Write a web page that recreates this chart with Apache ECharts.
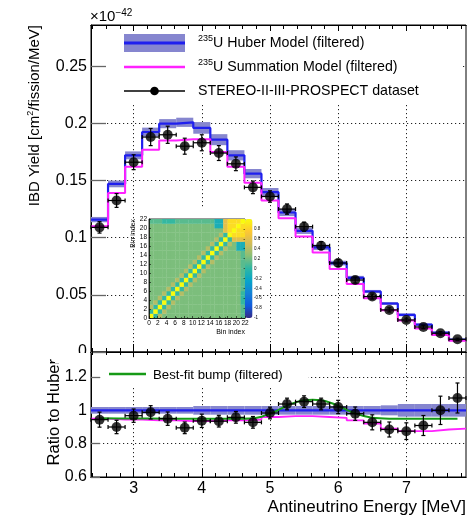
<!DOCTYPE html>
<html>
<head>
<meta charset="utf-8">
<script src="https://cdn.jsdelivr.net/npm/echarts@6/dist/echarts.min.js"></script>
<style>
html, body { margin: 0; padding: 0; background: #fff; }
#chart { width: 474px; height: 516px; }
</style>
</head>
<body>
<div id="chart"></div>
<script>
// bins: 0.25 MeV wide, centres below
const binCenters = [2.5, 2.75, 3.0, 3.25, 3.5, 3.75, 4.0, 4.25, 4.5, 4.75, 5.0,
                    5.25, 5.5, 5.75, 6.0, 6.25, 6.5, 6.75, 7.0, 7.25, 7.5, 7.75];
const binHalf = 0.125;

// top panel, units of 1e-42 cm2/fission/MeV
const huberYield = [0.1158, 0.147, 0.172, 0.1924, 0.1997, 0.2009, 0.196, 0.1857, 0.172, 0.156, 0.1398,
                    0.122, 0.106, 0.0915, 0.0778, 0.0649, 0.0529, 0.0424, 0.0325, 0.024, 0.017, 0.0108];
const huberRelErr = [0.02, 0.02, 0.02, 0.02, 0.02, 0.02, 0.026, 0.026, 0.026, 0.026, 0.026,
                     0.026, 0.026, 0.026, 0.026, 0.026, 0.026, 0.03, 0.038, 0.038, 0.038, 0.038];
const summationYield = [0.110, 0.139, 0.162, 0.177, 0.185, 0.186, 0.186, 0.175, 0.162, 0.148, 0.1325,
                        0.117, 0.101, 0.087, 0.0725, 0.0594, 0.047, 0.0366, 0.0275, 0.0205, 0.0148, 0.0098];
const dataYield = [0.109, 0.1325, 0.166, 0.188, 0.190, 0.180, 0.183, 0.174, 0.1646, 0.144, 0.136,
                   0.125, 0.1096, 0.093, 0.0778, 0.0629, 0.0485, 0.0368, 0.028, 0.0219, 0.0164, 0.0111];
const dataYieldErr = [0.005, 0.006, 0.0065, 0.0075, 0.0075, 0.007, 0.007, 0.0065, 0.006, 0.0055, 0.005,
                      0.0045, 0.004, 0.0035, 0.003, 0.0026, 0.0022, 0.0018, 0.0016, 0.0015, 0.0014, 0.001];

// bottom panel, ratio to Huber
const summationRatio = [0.950, 0.945, 0.945, 0.94, 0.94, 0.935, 0.935, 0.94, 0.94, 0.945, 0.96,
                        0.965, 0.965, 0.96, 0.955, 0.94, 0.92, 0.89, 0.875, 0.875, 0.885, 0.89];
const dataRatio = [0.944, 0.90, 0.968, 0.988, 0.95, 0.895, 0.937, 0.935, 0.958, 0.928, 0.984,
                   1.038, 1.052, 1.038, 1.020, 0.98, 0.928, 0.885, 0.875, 0.909, 1.0, 1.074];
const dataRatioErr = [0.045, 0.04, 0.04, 0.04, 0.04, 0.035, 0.04, 0.035, 0.035, 0.035, 0.035,
                      0.035, 0.035, 0.035, 0.04, 0.04, 0.045, 0.045, 0.05, 0.06, 0.085, 0.09];
const bumpEnergy = [2.5, 3.0, 3.5, 4.0, 4.5, 4.75, 4.875, 5.0, 5.125, 5.25, 5.375, 5.5, 5.625,
                    5.75, 5.875, 6.0, 6.125, 6.25, 6.375, 6.5, 6.75, 7.0, 7.5, 7.75];
const bumpRatio = [0.952, 0.951, 0.950, 0.949, 0.949, 0.952, 0.962, 0.980, 1.003, 1.028, 1.048, 1.060, 1.064,
                   1.060, 1.047, 1.027, 1.003, 0.982, 0.966, 0.956, 0.950, 0.949, 0.949, 0.949];

// ticks
const majorTicks = [3, 4, 5, 6, 7];
const minorTicks = [2.4, 2.6, 2.8, 3.2, 3.4, 3.6, 3.8, 4.2, 4.4, 4.6, 4.8, 5.2, 5.4, 5.6, 5.8,
                    6.2, 6.4, 6.6, 6.8, 7.2, 7.4, 7.6, 7.8];
const yieldTicks = [0, 0.05, 0.1, 0.15, 0.2, 0.25];
const ratioTicks = [0.6, 0.8, 1, 1.2];

// inset correlation matrix, row 0 = bin 0 (bottom), one char per column
const corrLevels = { Y: 1.0, y: 0.85, O: 0.6, k: 0.4, b: 0.22, g: 0.12, t: 0.02, T: -0.12 };
const corrRows = [
    'Ytkbbbbbbbbbbbbbbbbbbg',
    'tYtkbbbbbbbbbbbbbbbbbg',
    'ktYtkbbbbbbbbbbbbbbbbg',
    'bktYtkbbbbbbbbbbbbbbbt',
    'bbktYtkbbbbbbbbbbbbbbt',
    'bbbktYtkbbbbbbbbbbbbbt',
    'bbbbktYtkbbbbbbbbbbbbg',
    'bbbbbktYtkbbbbbbbbbbbg',
    'bbbbbbktYtkbbbbbbbbbbg',
    'bbbbbbbktYtkbbbbbbbbbg',
    'bbbbbbbbktYtkbbbbbbbbg',
    'bbbbbbbbbktYtkbbbbbbbg',
    'bbbbbbbbbbktYtkbbbbbbg',
    'bbbbbbbbbbbktYtkbbbbbg',
    'bbbbbbbbbbbbktYtkbbbbg',
    'bbbbbbbbbbbbbktYtkbbTT',
    'bbbbbbbbbbbbbbktYtkbTT',
    'bbbbbbbbbbbbbbbktYtOOO',
    'bbbbbbbbbbbbbbbbktYyyy',
    'bbbbbbbbbbbbbbbbbOyYyy',
    'bbbbbbbbbbbbbbbTTOyyYy',
    'gggtttgggggggggTTOyyyY'
];
const birdPalette = ['#352a87', '#0f5cdd', '#1481d6', '#06a4ca', '#2eb7a4',
                     '#87bf77', '#d1bb59', '#fec832', '#f9fb0e'];
const colorbarTicks = [-1, -0.8, -0.6, -0.4, -0.2, 0, 0.2, 0.4, 0.6, 0.8];
const binIndexTicks = [0, 2, 4, 6, 8, 10, 12, 14, 16, 18, 20, 22];

const FONT = '"Liberation Sans", Arial, Helvetica, sans-serif';
const huberColor = '#1f1fee';
const bandColor = '#8686cf';
const sumColor = '#ff22ff';
const bumpColor = '#169a16';
const gridLine = { show: true, lineStyle: { color: '#222', width: 1, type: [1.2, 2.8] } };

// histogram outline as step points on bin edges
function stepData(values) {
    const pts = binCenters.map((c, i) => [c - binHalf, values[i]]);
    pts.push([binCenters[binCenters.length - 1] + binHalf, values[values.length - 1]]);
    return pts;
}

function bandItem(params, api) {
    const x = api.value(0);
    const p1 = api.coord([x - binHalf, api.value(2)]);
    const p2 = api.coord([x + binHalf, api.value(1)]);
    return {
        type: 'rect',
        shape: { x: p1[0], y: p1[1], width: p2[0] - p1[0], height: p2[1] - p1[1] },
        style: { fill: bandColor }
    };
}

function errorItem(params, api) {
    const x = api.value(0), y = api.value(1), e = api.value(2);
    const top = api.coord([x, y + e]);
    const bot = api.coord([x, y - e]);
    const lft = api.coord([x - binHalf, y]);
    const rgt = api.coord([x + binHalf, y]);
    const st = { stroke: '#000', lineWidth: 1.2 };
    const cap = 2;
    const seg = (x1, y1, x2, y2) => ({ type: 'line', shape: { x1, y1, x2, y2 }, style: st });
    return {
        type: 'group',
        children: [
            seg(top[0], top[1], bot[0], bot[1]),
            seg(top[0] - cap, top[1], top[0] + cap, top[1]),
            seg(bot[0] - cap, bot[1], bot[0] + cap, bot[1]),
            seg(lft[0], lft[1], rgt[0], rgt[1]),
            seg(lft[0], lft[1] - cap, lft[0], lft[1] + cap),
            seg(rgt[0], rgt[1] - cap, rgt[0], rgt[1] + cap)
        ]
    };
}

function cellItem(params, api) {
    const c = api.value(0), r = api.value(1);
    const p1 = api.coord([c, r + 1]);
    const p2 = api.coord([c + 1, r]);
    return {
        type: 'rect',
        shape: { x: p1[0], y: p1[1], width: p2[0] - p1[0] + 0.3, height: p2[1] - p1[1] + 0.3 },
        style: { fill: api.visual('color') }
    };
}

const corrData = [];
corrRows.forEach((row, r) => {
    row.split('').forEach((ch, c) => corrData.push([c, r, corrLevels[ch]]));
});

function energyAxis(gridIndex, position, ticks, len, extra) {
    return Object.assign({
        type: 'value', gridIndex, position, min: 2.375, max: 7.875,
        axisLine: { show: true, lineStyle: { color: '#000', width: 1 } },
        axisTick: { show: true, inside: true, length: len, customValues: ticks, lineStyle: { color: '#000', width: 1 } },
        axisLabel: { show: false },
        splitLine: { show: false }
    }, extra || {});
}

const chart = echarts.init(document.getElementById('chart'));

const supRich = {
    sup: { fontSize: 9, fontFamily: FONT, verticalAlign: 'top', lineHeight: 18, fill: '#000' }
};

chart.setOption({
    animation: false,
    backgroundColor: '#fff',
    textStyle: { fontFamily: FONT },
    grid: [
        { left: 91, top: 25, width: 375, height: 327, show: true, borderColor: '#000', borderWidth: 1 },
        { left: 91, top: 352, width: 375, height: 125, show: true, borderColor: '#000', borderWidth: 1 },
        { left: 149, top: 219, width: 96, height: 99, show: true, borderColor: '#000', borderWidth: 0.8, z: 3 },
        { left: 245, top: 219, width: 7.5, height: 99 }
    ],
    xAxis: [
        energyAxis(0, 'bottom', majorTicks, 8, { splitLine: gridLine }),
        energyAxis(0, 'bottom', minorTicks, 4),
        energyAxis(0, 'top', majorTicks, 6),
        energyAxis(0, 'top', minorTicks, 4),
        energyAxis(1, 'bottom', majorTicks, 8, {
            splitLine: gridLine,
            axisLabel: { show: true, customValues: majorTicks, fontSize: 16, color: '#000', margin: 4, fontFamily: FONT }
        }),
        energyAxis(1, 'bottom', minorTicks, 4),
        energyAxis(1, 'top', majorTicks, 5),
        energyAxis(1, 'top', minorTicks, 3),
        {
            type: 'value', gridIndex: 2, min: 0, max: 22, z: 5,
            axisLine: { show: true, lineStyle: { color: '#000', width: 0.8 } },
            axisTick: { show: true, inside: true, length: 2, customValues: binIndexTicks, lineStyle: { color: '#000', width: 0.6 } },
            minorTick: { show: true, splitNumber: 4, length: 1, lineStyle: { color: '#000', width: 0.5 } },
            axisLabel: { show: true, customValues: binIndexTicks, fontSize: 6.5, margin: 2, color: '#000' },
            splitLine: { show: false }
        },
        { type: 'value', gridIndex: 3, min: 0, max: 1, show: false }
    ],
    yAxis: [
        {
            type: 'value', gridIndex: 0, min: 0, max: 0.286,
            axisLine: { show: true, lineStyle: { color: '#000' } },
            axisTick: { show: true, inside: true, length: 15, customValues: yieldTicks, lineStyle: { color: '#666', width: 1.3 } },
            axisLabel: { show: true, customValues: yieldTicks, fontSize: 16, color: '#000', margin: 4, fontFamily: FONT },
            splitLine: gridLine
        },
        {
            type: 'value', gridIndex: 1, min: 0.6, max: 1.35,
            axisLine: { show: true, lineStyle: { color: '#000' } },
            axisTick: { show: true, inside: true, length: 9, customValues: ratioTicks, lineStyle: { color: '#666', width: 1.3 } },
            axisLabel: { show: true, customValues: ratioTicks, fontSize: 16, color: '#000', margin: 4, fontFamily: FONT },
            splitLine: gridLine
        },
        {
            type: 'value', gridIndex: 2, min: 0, max: 22, z: 5,
            axisLine: { show: true, lineStyle: { color: '#000', width: 0.8 } },
            axisTick: { show: true, inside: true, length: 2, customValues: binIndexTicks, lineStyle: { color: '#000', width: 0.6 } },
            axisLabel: { show: true, customValues: binIndexTicks, fontSize: 6.5, margin: 2, color: '#000' },
            splitLine: { show: false }
        },
        {
            type: 'value', gridIndex: 3, min: -1, max: 1, position: 'right', z: 5,
            axisLine: { show: false },
            axisTick: { show: true, inside: true, length: 1.5, customValues: colorbarTicks, lineStyle: { color: '#000', width: 0.5 } },
            axisLabel: { show: true, customValues: colorbarTicks, fontSize: 4.5, margin: 1.5, color: '#000' },
            splitLine: { show: false }
        }
    ],
    visualMap: [{
        type: 'continuous', min: -1, max: 1, seriesIndex: 11, dimension: 2,
        inRange: { color: birdPalette },
        left: 245, top: 219, itemWidth: 7.5, itemHeight: 99, padding: 0,
        calculable: false, hoverLink: false, z: 5
    }],
    series: [
        // --- top panel ---
        {
            type: 'custom', xAxisIndex: 0, yAxisIndex: 0, z: 2,
            data: binCenters.map((c, i) => [c, huberYield[i] * (1 - huberRelErr[i]), huberYield[i] * (1 + huberRelErr[i])]),
            encode: { x: 0, y: [1, 2] },
            renderItem: bandItem
        },
        {
            type: 'line', xAxisIndex: 0, yAxisIndex: 0, step: 'end', symbol: 'none', z: 3,
            data: stepData(huberYield), lineStyle: { color: huberColor, width: 2.2 }
        },
        {
            type: 'line', xAxisIndex: 0, yAxisIndex: 0, step: 'end', symbol: 'none', z: 3,
            data: stepData(summationYield), lineStyle: { color: sumColor, width: 2 }
        },
        {
            type: 'custom', xAxisIndex: 0, yAxisIndex: 0, z: 4,
            data: binCenters.map((c, i) => [c, dataYield[i], dataYieldErr[i]]),
            encode: { x: 0, y: 1 },
            renderItem: errorItem
        },
        {
            type: 'scatter', xAxisIndex: 0, yAxisIndex: 0, z: 5, symbol: 'circle', symbolSize: 10,
            data: binCenters.map((c, i) => [c, dataYield[i]]),
            itemStyle: { color: '#000' }
        },
        // --- ratio panel ---
        {
            type: 'custom', xAxisIndex: 4, yAxisIndex: 1, z: 2,
            data: binCenters.map((c, i) => [c, 1 - huberRelErr[i], 1 + huberRelErr[i]]),
            encode: { x: 0, y: [1, 2] },
            renderItem: bandItem
        },
        {
            type: 'line', xAxisIndex: 4, yAxisIndex: 1, step: 'end', symbol: 'none', z: 3,
            data: stepData(huberYield.map(v => v / v)), lineStyle: { color: huberColor, width: 2.3 }
        },
        {
            type: 'line', xAxisIndex: 4, yAxisIndex: 1, step: 'end', symbol: 'none', z: 3,
            data: stepData(summationRatio), lineStyle: { color: sumColor, width: 1.8 }
        },
        {
            type: 'line', xAxisIndex: 4, yAxisIndex: 1, smooth: 0.3, symbol: 'none', z: 3,
            data: bumpEnergy.map((e, i) => [e, bumpRatio[i]]), lineStyle: { color: bumpColor, width: 2 }
        },
        {
            type: 'custom', xAxisIndex: 4, yAxisIndex: 1, z: 4,
            data: binCenters.map((c, i) => [c, dataRatio[i], dataRatioErr[i]]),
            encode: { x: 0, y: 1 },
            renderItem: errorItem
        },
        {
            type: 'scatter', xAxisIndex: 4, yAxisIndex: 1, z: 5, symbol: 'circle', symbolSize: 10,
            data: binCenters.map((c, i) => [c, dataRatio[i]]),
            itemStyle: { color: '#000' }
        },
        // --- inset correlation matrix ---
        {
            type: 'custom', xAxisIndex: 8, yAxisIndex: 2, z: 4,
            data: corrData, encode: { x: 0, y: 1 },
            renderItem: cellItem
        }
    ],
    graphic: [
        // white pads (legends, inset)
        { type: 'rect', z: 1, shape: { x: 107, y: 33, width: 354, height: 72 }, style: { fill: '#fff' } },
        { type: 'rect', z: 1, shape: { x: 101, y: 360, width: 207, height: 28 }, style: { fill: '#fff' } },
        { type: 'rect', z: 1, shape: { x: 134, y: 207, width: 124, height: 142 }, style: { fill: '#fff' } },
        { type: 'rect', z: 100, shape: { x: 55, y: 353, width: 34, height: 10 }, style: { fill: '#fff' } },
        // top legend
        { type: 'rect', z: 5, shape: { x: 124, y: 34, width: 61, height: 18 }, style: { fill: bandColor } },
        { type: 'line', z: 6, shape: { x1: 124, y1: 43, x2: 185, y2: 43 }, style: { stroke: huberColor, lineWidth: 3 } },
        {
            type: 'text', z: 6, x: 198, y: 43,
            style: { text: '{sup|235}U Huber Model (filtered)', fontSize: 14.2, fontFamily: FONT, fill: '#000',
                     verticalAlign: 'middle', lineHeight: 18, rich: supRich }
        },
        { type: 'line', z: 6, shape: { x1: 124, y1: 67, x2: 185, y2: 67 }, style: { stroke: sumColor, lineWidth: 2.5 } },
        {
            type: 'text', z: 6, x: 198, y: 67,
            style: { text: '{sup|235}U Summation Model (filtered)', fontSize: 14.2, fontFamily: FONT, fill: '#000',
                     verticalAlign: 'middle', lineHeight: 18, rich: supRich }
        },
        { type: 'line', z: 6, shape: { x1: 124, y1: 91, x2: 185, y2: 91 }, style: { stroke: '#000', lineWidth: 1.4 } },
        { type: 'circle', z: 6, shape: { cx: 154.5, cy: 91, r: 4.3 }, style: { fill: '#000' } },
        {
            type: 'text', z: 6, x: 198, y: 91,
            style: { text: 'STEREO-II-III-PROSPECT dataset', fontSize: 14.2, fontFamily: FONT, fill: '#000', verticalAlign: 'middle' }
        },
        // ratio legend
        { type: 'line', z: 6, shape: { x1: 109, y1: 374, x2: 146, y2: 374 }, style: { stroke: bumpColor, lineWidth: 2.5 } },
        {
            type: 'text', z: 6, x: 153, y: 375,
            style: { text: 'Best-fit bump (filtered)', fontSize: 13.2, fontFamily: FONT, fill: '#000', verticalAlign: 'middle' }
        },
        // axis titles
        {
            type: 'text', z: 6, x: 90, y: 17,
            style: { text: '\u00d710{sup|\u221242}', fontSize: 15, fontFamily: FONT, fill: '#000', verticalAlign: 'middle',
                     lineHeight: 18, rich: { sup: { fontSize: 10, fontFamily: FONT, verticalAlign: 'top', lineHeight: 18 } } }
        },
        {
            type: 'text', z: 6, x: 35, y: 25, rotation: Math.PI / 2,
            style: { text: 'IBD Yield [cm{sup|2}/fission/MeV]', fontSize: 15, fontFamily: FONT, fill: '#000',
                     align: 'right', verticalAlign: 'middle', lineHeight: 18, rich: supRich }
        },
        {
            type: 'text', z: 6, x: 54, y: 359, rotation: Math.PI / 2,
            style: { text: 'Ratio to Huber', fontSize: 16.5, fontFamily: FONT, fill: '#000', align: 'right', verticalAlign: 'middle' }
        },
        {
            type: 'text', z: 6, x: 466, y: 507,
            style: { text: 'Antineutrino Energy [MeV]', fontSize: 17, fontFamily: FONT, fill: '#000', align: 'right', verticalAlign: 'middle' }
        },
        // inset axis titles
        {
            type: 'text', z: 6, x: 245, y: 332,
            style: { text: 'Bin index', fontSize: 7, fontFamily: FONT, fill: '#000', align: 'right', verticalAlign: 'middle' }
        },
        {
            type: 'text', z: 6, x: 133, y: 219, rotation: Math.PI / 2,
            style: { text: 'Bin index', fontSize: 7, fontFamily: FONT, fill: '#000', align: 'right', verticalAlign: 'middle' }
        }
    ]
});
</script>
</body>
</html>
